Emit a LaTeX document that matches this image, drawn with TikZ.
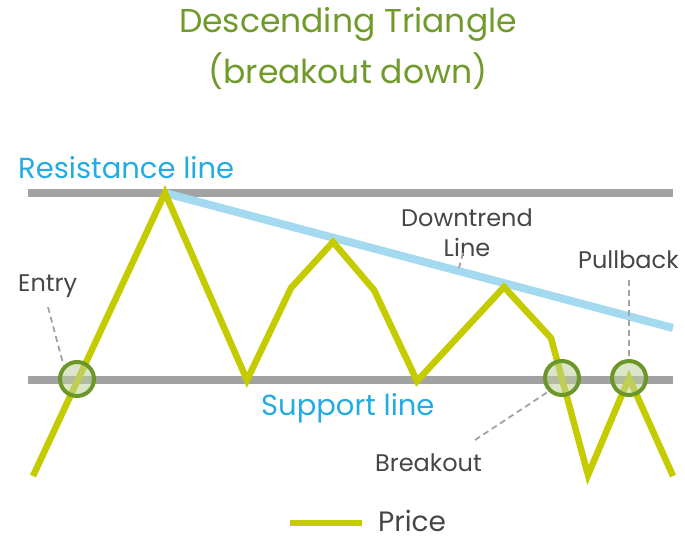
\documentclass[tikz,border=0pt]{standalone}
\usepackage{fontspec}
\setmainfont{Poppins}
\usetikzlibrary{positioning}
\definecolor{titlegreen}{RGB}{112,154,42}
\definecolor{levelgray}{RGB}{162,162,162}
\definecolor{trendblue}{RGB}{164,218,240}
\definecolor{pricelime}{RGB}{196,204,0}
\definecolor{labelblue}{RGB}{36,172,226}
\definecolor{labelgray}{RGB}{70,70,70}
\definecolor{ringgreen}{RGB}{108,150,40}

\begin{document}
\begin{tikzpicture}[x=1pt,y=-1pt,
        title/.style={text=titlegreen,font=\fontsize{33}{36}\selectfont,inner sep=0pt},
        linelabel/.style={text=labelblue,font=\fontsize{29}{33}\selectfont,inner sep=0pt},
        note/.style={text=labelgray,font=\fontsize{24}{30}\selectfont,inner sep=0pt,align=center},
        level/.style={draw=levelgray,line width=7.5pt},
        trend/.style={draw=trendblue,line width=8pt},
        price/.style={draw=pricelime,line width=6.5pt,line join=miter},
        ring/.style={circle,draw=ringgreen,line width=4pt,fill=ringgreen!45,fill opacity=0.55,
          minimum size=34pt,inner sep=0pt},
        leader/.style={draw=levelgray,line width=1.8pt,dash pattern=on 6pt off 4pt}]
        \useasboundingbox (0,0) rectangle (685,540);
        % title
        \node[title] (head) at (348,24) {Descending Triangle};
        \node[title] (sub) at (348,71) {(breakout down)};
        % levels
        \coordinate (resL) at (28,193);
        \coordinate (resR) at (673,193);
        \coordinate (supL) at (28,380);
        \coordinate (supR) at (673,380);
        \coordinate (trendR) at (673,328);
        \draw[level] (resL) -- (resR);
        \draw[level] (supL) -- (supR);
        % price points
        \coordinate (p0) at (33,476);
        \coordinate (p1) at (165,193);
        \coordinate (p2) at (247,380);
        \coordinate (p3) at (291,288);
        \coordinate (p4) at (333,242);
        \coordinate (p5) at (374,290);
        \coordinate (p6) at (417,381);
        \coordinate (p7) at (504,287);
        \coordinate (p8) at (551,338);
        \coordinate (p9) at (588,475);
        \coordinate (p10) at (629,378);
        \coordinate (p11) at (673,476);
        \draw[trend] (p1) -- (trendR);
        \draw[price] (p0) -- (p1) -- (p2) -- (p3) -- (p4) -- (p5) -- (p6) -- (p7) -- (p8) -- (p9) -- (p10) -- (p11);
        % circles
        \node[ring] (entry) at (77,379) {};
        \node[ring] (brk) at (562,378) {};
        \node[ring] (pull) at (629,378) {};
        % labels
        \node[linelabel,anchor=west] (reslabel) at (18,168) {Resistance line};
        \node[linelabel,anchor=west] (suplabel) at (261,408) {Support line};
        \node[note] (downlabel) at (467,233) {Downtrend\\Line};
        \node[note,anchor=west] (pulllabel) at (578,260) {Pullback};
        \node[note,anchor=west] (entrylabel) at (18,286) {Entry};
        \node[note,anchor=west] (brklabel) at (375,463) {Breakout};
        % leaders
        \coordinate (entryA) at (48,307);
        \coordinate (downA) at (463,253);
        \coordinate (downB) at (459,268);
        \coordinate (pullA) at (629,280);
        \coordinate (brkA) at (475,440);
        \draw[leader] (entryA) -- (entry.north west);
        \draw[leader] (downA) -- (downB);
        \draw[leader] (pullA) -- (pull.north);
        \draw[leader] (brkA) -- (brk.south west);
        % legend
        \node[note,anchor=west,font=\fontsize{28}{30}\selectfont] (legend) at (378,521) {Price};
        \coordinate (legendL) at (290,523);
        \coordinate (legendR) at (362,523);
        \draw[price] (legendL) -- (legendR);
      \end{tikzpicture}
\end{document}
